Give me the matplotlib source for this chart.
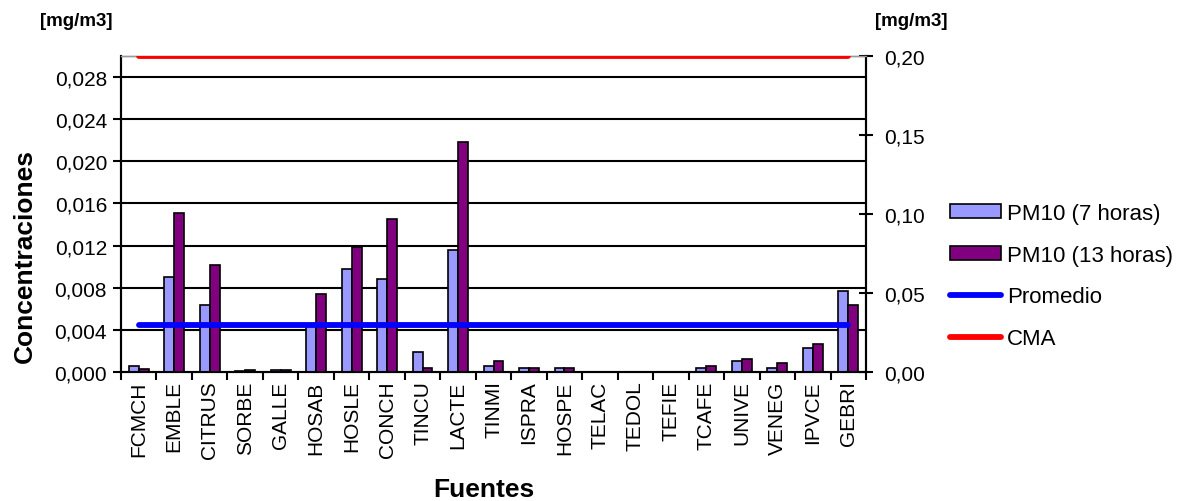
import matplotlib.pyplot as plt
import numpy as np

plt.rcParams['font.family'] = ['Liberation Sans', 'DejaVu Sans']

fuentes = ["FCMCH", "EMBLE", "CITRUS", "SORBE", "GALLE", "HOSAB", "HOSLE",
           "CONCH", "TINCU", "LACTE", "TINMI", "ISPRA", "HOSPE", "TELAC",
           "TEDOL", "TEFIE", "TCAFE", "UNIVE", "VENEG", "IPVCE", "GEBRI"]
pm10_7h = [0.0006, 0.0090, 0.0064, 0.0001, 0.0002, 0.0044, 0.0098,
           0.0088, 0.0019, 0.0116, 0.0006, 0.0004, 0.0004, 0.0,
           0.0, 0.0, 0.0004, 0.0010, 0.0004, 0.0023, 0.0077]
pm10_13h = [0.0003, 0.0151, 0.0102, 0.0002, 0.0002, 0.0074, 0.0119,
            0.0145, 0.0004, 0.0218, 0.0010, 0.0004, 0.0004, 0.0,
            0.0, 0.0, 0.0006, 0.0012, 0.0009, 0.0027, 0.0064]
promedio = 0.030   # eje derecho
cma = 0.20         # eje derecho

left_ticks = np.arange(0, 0.0281, 0.004)
right_ticks = [0.0, 0.05, 0.10, 0.15, 0.20]

fig = plt.figure(figsize=(11.78, 5.02), dpi=100)
ax = fig.add_axes([121 / 1178, 1 - 373 / 502, (866 - 121) / 1178, (373 - 57) / 502])
ax2 = ax.twinx()

x = np.arange(len(fuentes))
w = 0.28
b1 = ax.bar(x - w / 2, pm10_7h, w, color="#9999FF", edgecolor="black", linewidth=1.2,
            label="PM10 (7 horas)", zorder=3)
b2 = ax.bar(x + w / 2, pm10_13h, w, color="#800080", edgecolor="black", linewidth=1.2,
            label="PM10 (13 horas)", zorder=3)

l1, = ax2.plot([x[0], x[-1]], [promedio, promedio], color="#0000FF", lw=4.2,
               solid_capstyle="round", label="Promedio", zorder=4)
l2, = ax2.plot([x[0], x[-1]], [cma, cma], color="#FF0000", lw=4.2,
               solid_capstyle="round", label="CMA", zorder=4)

ax.set_xlim(-0.5, len(fuentes) - 0.5)
ax.set_ylim(0, 0.030)
ax2.set_ylim(0, 0.20)

for t in left_ticks[1:]:
    ax.axhline(t, color="black", lw=1.5, zorder=1)

ax.set_yticks(left_ticks)
ax.set_yticklabels([f"{v:.3f}".replace(".", ",") for v in left_ticks], fontsize=15)
ax2.set_yticks(right_ticks)
ax2.set_yticklabels([f"{v:.2f}".replace(".", ",") for v in right_ticks], fontsize=15)

ax.set_xticks(x)
ax.set_xticklabels(fuentes, rotation=90, fontsize=15)
ax.set_xticks(np.arange(-0.5, len(fuentes)), minor=True)
ax.tick_params(axis="x", which="major", length=0, pad=6)
ax.tick_params(axis="x", which="minor", direction="out", length=6, width=1.5)
ax.tick_params(axis="y", direction="out", length=6, width=1.5, pad=4)
ax2.tick_params(axis="y", direction="inout", length=10, width=1.5, pad=8)

for a in (ax, ax2):
    for s in ("left", "right", "bottom"):
        a.spines[s].set_linewidth(1.5)
        a.spines[s].set_color("black")
    a.spines["top"].set_color("#999999")
    a.spines["top"].set_linewidth(1)

fig.text(76 / 1178, 1 - 21 / 502, "[mg/m3]", fontsize=13.5, fontweight="bold",
         ha="center", va="center")
fig.text(911 / 1178, 1 - 21 / 502, "[mg/m3]", fontsize=13.5, fontweight="bold",
         ha="center", va="center")
fig.text(25 / 1178, 1 - 256 / 502, "Concentraciones", fontsize=19, fontweight="bold",
         rotation=90, ha="center", va="center")
fig.text(484 / 1178, 1 - 490 / 502, "Fuentes", fontsize=19, fontweight="bold",
         ha="center", va="center")

fig.legend(handles=[b1, b2, l1, l2], loc="center left",
           bbox_to_anchor=(939 / 1178, 1 - 277 / 502), frameon=False,
           fontsize=16, handlelength=2.3, handleheight=0.6, handletextpad=0.25,
           labelspacing=0.93, borderpad=0)

fig.savefig("out.png", dpi=100)
